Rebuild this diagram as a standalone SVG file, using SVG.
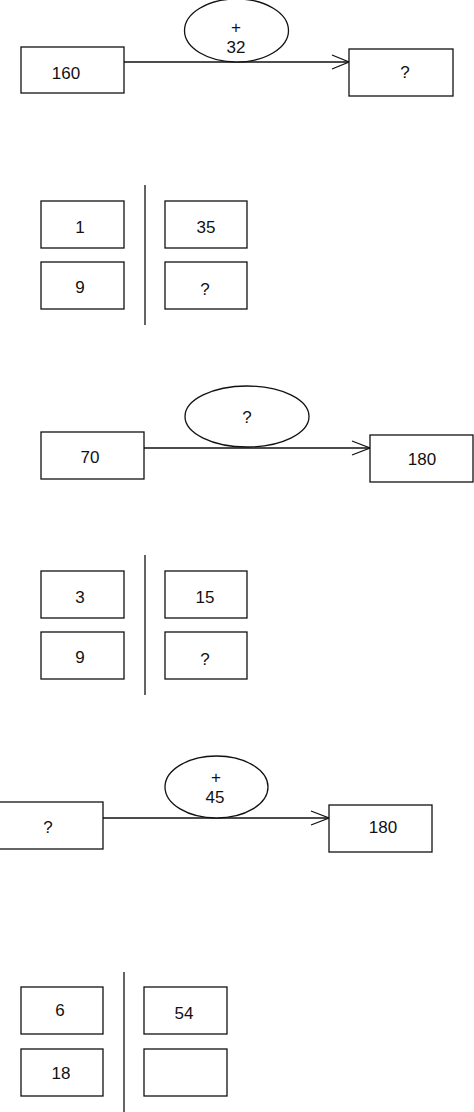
<svg xmlns="http://www.w3.org/2000/svg" width="474" height="1112" viewBox="0 0 474 1112">
<style>
rect,ellipse{fill:#fff;stroke:#111;stroke-width:1.3}
rect.bg{stroke:none}
line,polyline{stroke:#111;stroke-width:1.3;fill:none}
text{font-family:"Liberation Sans",Arial,sans-serif;font-size:17px;fill:#111;text-anchor:middle}
</style>
<rect class="bg" width="474" height="1112"/>
<g id="connectors">
<line x1="124" y1="62" x2="349" y2="62"/>
<polyline points="332,55 349,62 332,69"/>
<line x1="144" y1="448" x2="370" y2="448"/>
<polyline points="352,441 370,448 352,455"/>
<line x1="103" y1="818" x2="329" y2="818"/>
<polyline points="311,811 329,818 311,825"/>
<line x1="145" y1="185" x2="145" y2="325"/>
<line x1="145" y1="555" x2="145" y2="695"/>
<line x1="124" y1="972" x2="124" y2="1112"/>
</g>
<g id="op1"><ellipse cx="236.5" cy="30.5" rx="52" ry="31.5"/><text x="236" y="33">+</text><text x="236" y="53">32</text></g>
<g id="n160"><rect x="21" y="47" width="103" height="46"/><text x="66" y="79">160</text></g>
<g id="nq1"><rect x="349" y="49" width="104" height="47"/><text x="405" y="78">?</text></g>
<g id="a1"><rect x="41" y="201" width="83" height="47"/><text x="80" y="233">1</text></g>
<g id="a35"><rect x="165" y="201" width="82" height="47"/><text x="206" y="233">35</text></g>
<g id="a9"><rect x="41" y="262" width="83" height="47"/><text x="80" y="293">9</text></g>
<g id="aq"><rect x="165" y="262" width="82" height="47"/><text x="205" y="295">?</text></g>
<g id="op2"><ellipse cx="247" cy="416.5" rx="62" ry="30.5"/><text x="247" y="423">?</text></g>
<g id="n70"><rect x="41" y="432" width="103" height="47"/><text x="90" y="463">70</text></g>
<g id="n180a"><rect x="370" y="435" width="103" height="47"/><text x="422" y="465">180</text></g>
<g id="b3"><rect x="41" y="571" width="83" height="47"/><text x="80" y="603">3</text></g>
<g id="b15"><rect x="165" y="571" width="82" height="47"/><text x="205" y="603">15</text></g>
<g id="b9"><rect x="41" y="632" width="83" height="47"/><text x="80" y="663">9</text></g>
<g id="bq"><rect x="165" y="632" width="82" height="47"/><text x="205" y="665">?</text></g>
<g id="op3"><ellipse cx="216.5" cy="787" rx="51.5" ry="31"/><text x="216" y="783">+</text><text x="215" y="803">45</text></g>
<g id="nq3"><rect x="-1" y="802" width="104" height="47"/><text x="48" y="833">?</text></g>
<g id="n180b"><rect x="329" y="805" width="103" height="47"/><text x="383" y="833">180</text></g>
<g id="c6"><rect x="21" y="987" width="82" height="47"/><text x="60" y="1016">6</text></g>
<g id="c54"><rect x="144" y="987" width="83" height="47"/><text x="184" y="1019">54</text></g>
<g id="c18"><rect x="21" y="1049" width="82" height="47"/><text x="61" y="1079">18</text></g>
<g id="cblank"><rect x="144" y="1049" width="83" height="47"/></g>
</svg>
